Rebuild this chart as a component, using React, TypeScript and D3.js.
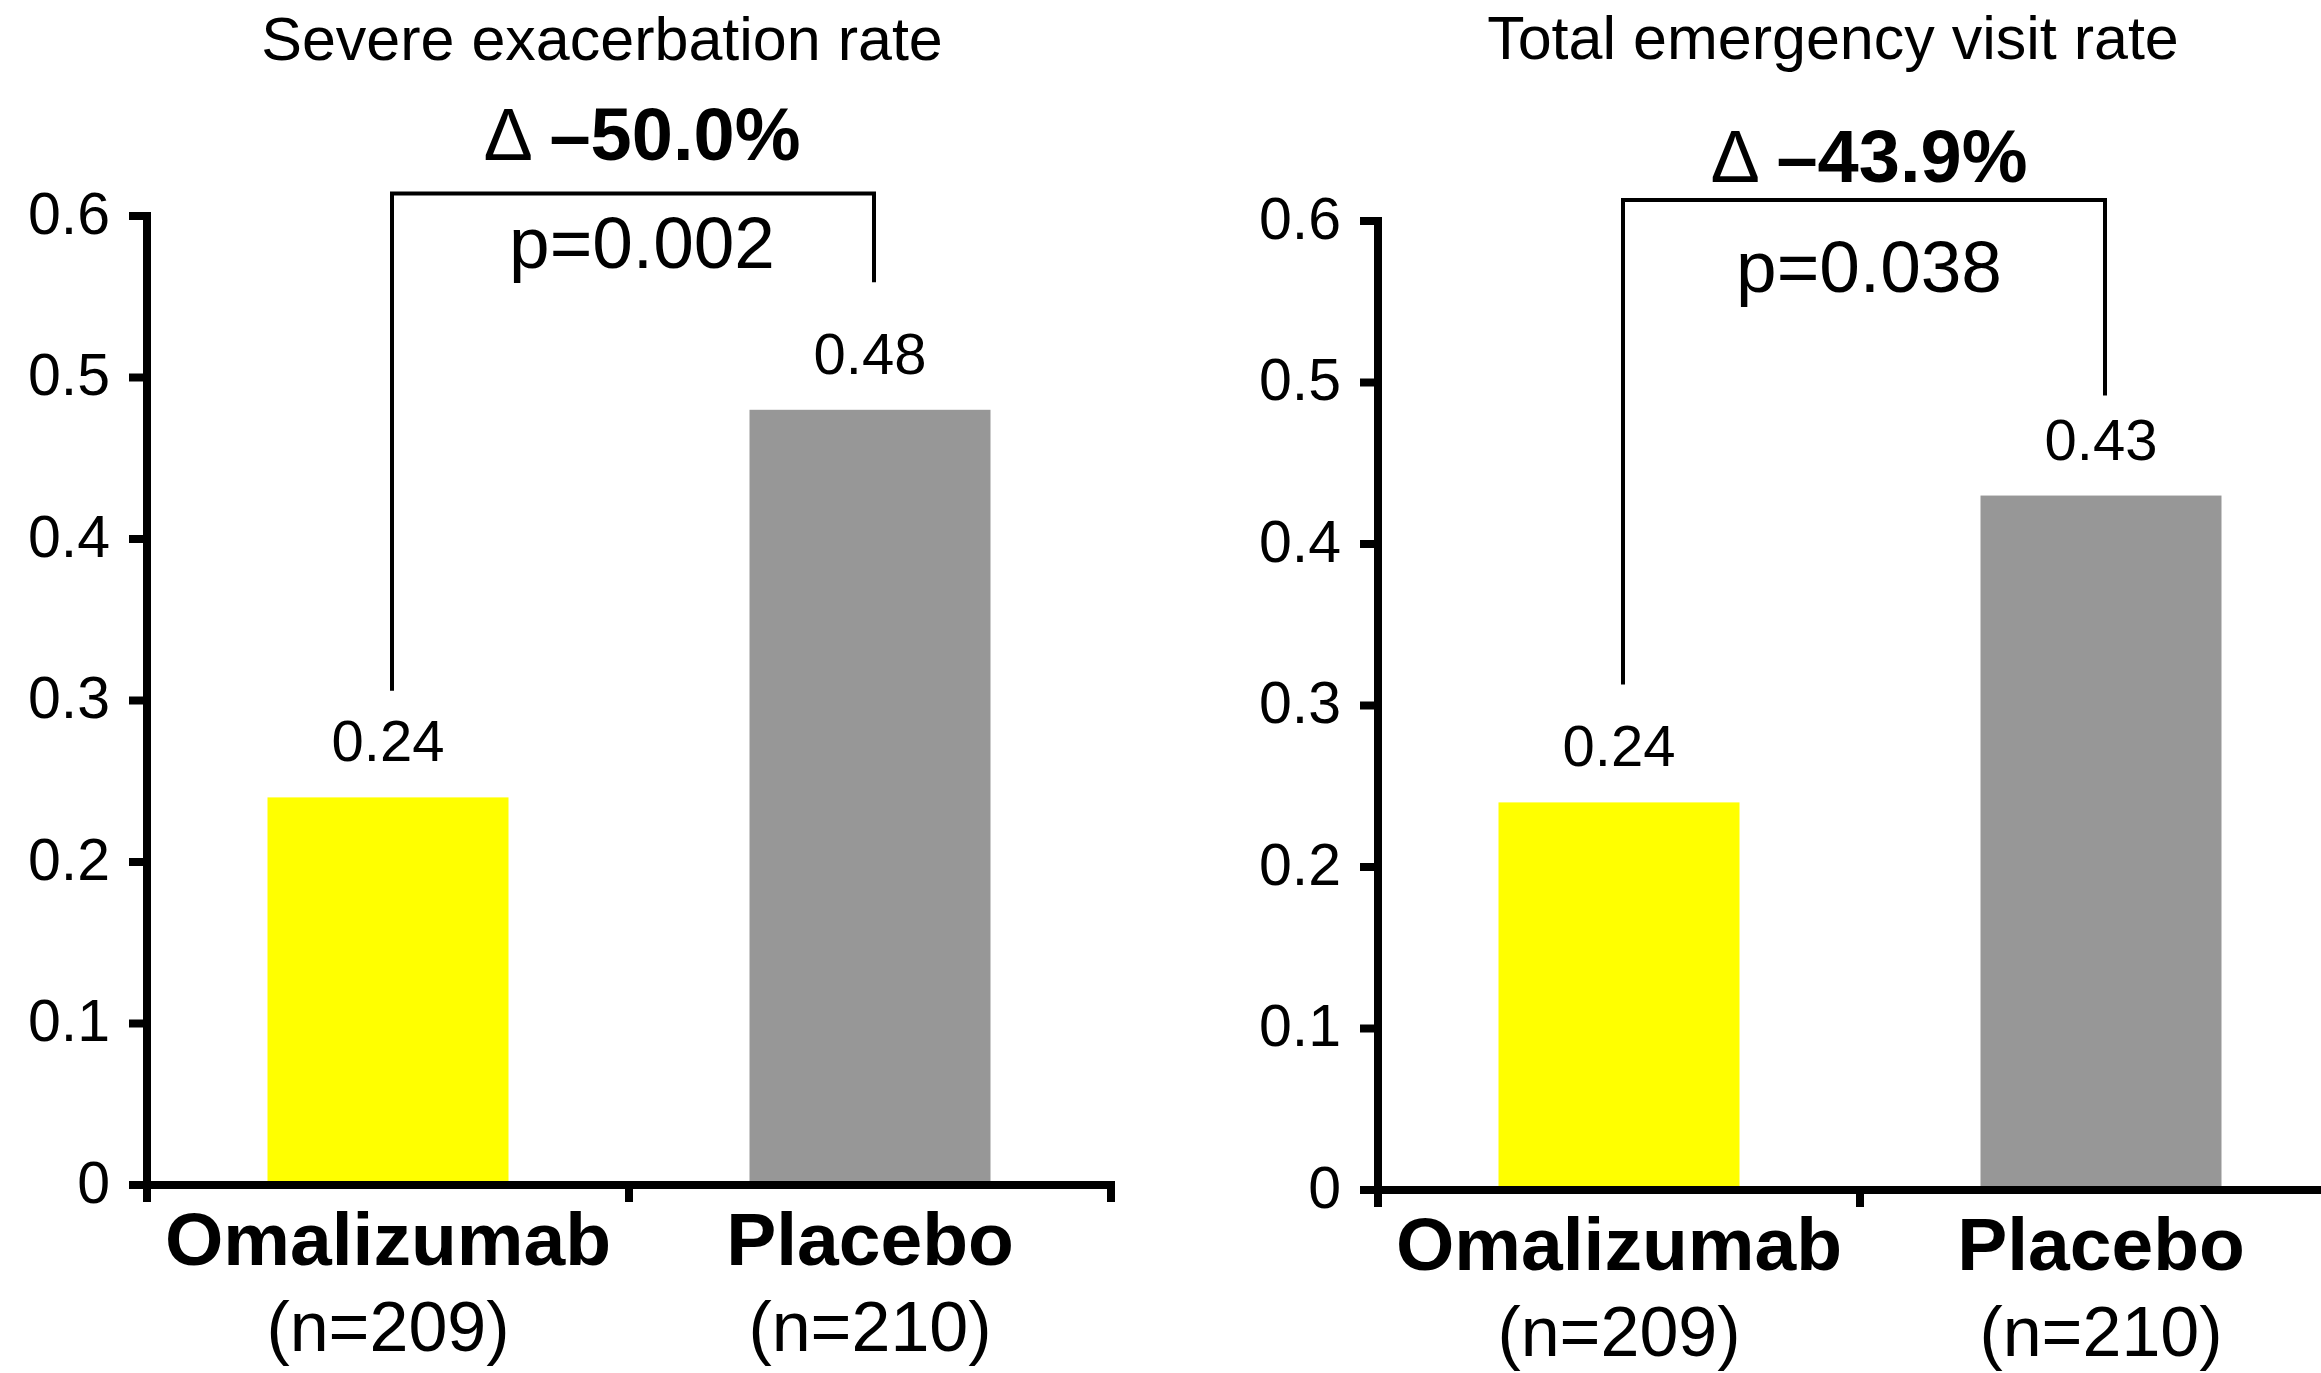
import React from "react";
import * as d3 from "d3";

// ---- Data ----
const categories = ["Omalizumab", "Placebo"];
const sampleSizes = ["(n=209)", "(n=210)"];
const panelTitles = ["Severe exacerbation rate", "Total emergency visit rate"];
const severeExacerbationRates = [0.24, 0.48];
const emergencyVisitRates = [0.24, 0.43];
const valueLabels = [["0.24", "0.48"], ["0.24", "0.43"]];
const deltaLabels = ["–50.0%", "–43.9%"];
const pValueLabels = ["p=0.002", "p=0.038"];
const yTicks = [0, 0.1, 0.2, 0.3, 0.4, 0.5, 0.6];
const yTickLabels = ["0", "0.1", "0.2", "0.3", "0.4", "0.5", "0.6"];
// bracket levels in data units: [top, left foot, right foot]
const bracketLevels = [
  [0.614, 0.306, 0.559],
  [0.613, 0.313, 0.492],
];

// ---- Layout / style ----
const W = 2321;
const H = 1373;
const FONT = "'Liberation Sans', Arial, Helvetica, sans-serif";
const barColors = ["#FFFF00", "#979797"];
const panels = [
  { x0: 147, bandW: 482, yZero: 1185, yTop: 216, deltaY: 160, pY: 268, titleY: 60, textShift: 9 },
  { x0: 1378, bandW: 482, yZero: 1190, yTop: 221, deltaY: 182, pY: 292, titleY: 59, textShift: 5 },
];
const seriesList = [severeExacerbationRates, emergencyVisitRates];

function Panel({ idx }: { idx: number }) {
  const p = panels[idx];
  const values = seriesList[idx];
  const x = d3
    .scaleBand<string>()
    .domain(categories)
    .range([p.x0, p.x0 + p.bandW * categories.length])
    .padding(0);
  const y = d3.scaleLinear().domain([0, 0.6]).range([p.yZero, p.yTop]);
  const bw = x.bandwidth();
  const barW = bw * 0.5;
  const axisW = 8;
  const tickLen = 18;
  const [bTop, bLeft, bRight] = bracketLevels[idx];
  const bx1 = (x(categories[0]) as number) + bw / 2 + 4;
  const bx2 = (x(categories[1]) as number) + bw / 2 + 4;
  const textX = (bx1 + bx2) / 2 + p.textShift;
  const panelCenter = p.x0 + (p.bandW * categories.length) / 2;
  const boundaries = [0, 1, 2].map((i) => p.x0 + i * bw);

  return (
    <g>
      <text x={panelCenter - 27} y={p.titleY} fontSize={61} textAnchor="middle" fontFamily={FONT} fill="#000">
        {panelTitles[idx]}
      </text>

      {/* bars */}
      {values.map((v, i) => (
        <rect
          key={i}
          x={(x(categories[i]) as number) + (bw - barW) / 2}
          y={y(v)}
          width={barW}
          height={y(0) - y(v)}
          fill={barColors[i]}
        />
      ))}

      {/* value labels */}
      {values.map((v, i) => (
        <text
          key={"v" + i}
          x={(x(categories[i]) as number) + bw / 2}
          y={y(v) - 36}
          fontSize={58}
          textAnchor="middle"
          fontFamily={FONT}
          fill="#000"
        >
          {valueLabels[idx][i]}
        </text>
      ))}

      {/* y axis */}
      <line x1={p.x0} x2={p.x0} y1={y(0.6) - axisW / 2} y2={y(0) + 17} stroke="#000" strokeWidth={axisW} />
      {yTicks.map((t, i) => (
        <g key={"yt" + i}>
          <line x1={p.x0 - tickLen} x2={p.x0} y1={y(t)} y2={y(t)} stroke="#000" strokeWidth={axisW} />
          <text
            x={p.x0 - 37}
            y={y(t)}
            dy="0.3em"
            fontSize={59}
            textAnchor="end"
            fontFamily={FONT}
            fill="#000"
          >
            {yTickLabels[i]}
          </text>
        </g>
      ))}

      {/* x axis */}
      <line
        x1={p.x0 - tickLen}
        x2={p.x0 + bw * categories.length + axisW / 2}
        y1={y(0)}
        y2={y(0)}
        stroke="#000"
        strokeWidth={axisW}
      />
      {boundaries.map((bx, i) => (
        <line key={"xt" + i} x1={bx} x2={bx} y1={y(0)} y2={y(0) + 17} stroke="#000" strokeWidth={axisW} />
      ))}

      {/* category labels */}
      {categories.map((c, i) => (
        <g key={"c" + i}>
          <text
            x={(x(c) as number) + bw / 2}
            y={y(0) + 80}
            fontSize={75}
            fontWeight="bold"
            textAnchor="middle"
            fontFamily={FONT}
            fill="#000"
          >
            {c}
          </text>
          <text
            x={(x(c) as number) + bw / 2}
            y={y(0) + 166}
            fontSize={70}
            textAnchor="middle"
            fontFamily={FONT}
            fill="#000"
          >
            {sampleSizes[i]}
          </text>
        </g>
      ))}

      {/* bracket */}
      <path
        d={`M${bx1},${y(bLeft)} V${y(bTop)} H${bx2} V${y(bRight)}`}
        fill="none"
        stroke="#000"
        strokeWidth={4}
      />
      <text x={textX} y={p.deltaY} fontSize={74} textAnchor="middle" fontFamily={FONT} fill="#000">
        <tspan fontWeight="normal">Δ </tspan>
        <tspan fontWeight="bold">{deltaLabels[idx]}</tspan>
      </text>
      <text x={textX} y={p.pY} fontSize={73} textAnchor="middle" fontFamily={FONT} fill="#000">
        {pValueLabels[idx]}
      </text>
    </g>
  );
}

export default function App() {
  return (
    <svg
      width={W}
      height={H}
      viewBox={`0 0 ${W} ${H}`}
      style={{ position: "absolute", left: 0, top: 0, background: "#fff" }}
    >
      <rect x={0} y={0} width={W} height={H} fill="#fff" />
      <Panel idx={0} />
      <Panel idx={1} />
    </svg>
  );
}
